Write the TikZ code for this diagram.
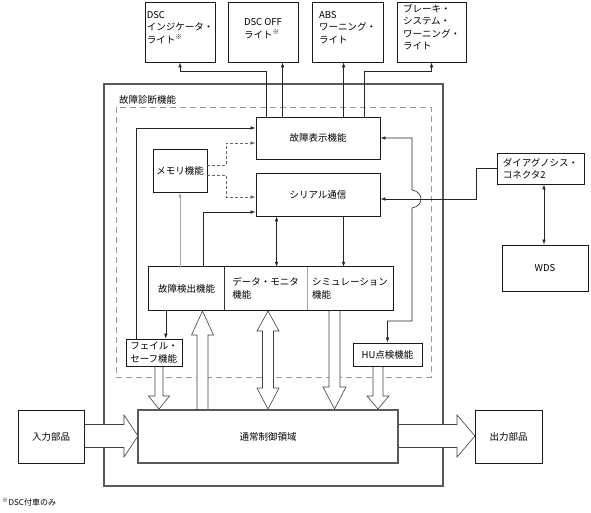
\documentclass[tikz,border=0pt]{standalone}
\usepackage{fontspec}
\setmainfont{Noto Sans CJK JP}
\usetikzlibrary{arrows.meta}
\newcommand{\vhollow}[6]{\draw[hollow] ({#1-#5},#2) -- ({#1-#5},#3) -- ({#1-#6},#3) -- (#1,#4) -- ({#1+#6},#3) -- ({#1+#5},#3) -- ({#1+#5},#2);}
\newcommand{\hhollow}[6]{\draw[hollow] (#2,{#1-#5}) -- (#3,{#1-#5}) -- (#3,{#1-#6}) -- (#4,#1) -- (#3,{#1+#6}) -- (#3,{#1+#5}) -- (#2,{#1+#5});}
\tikzset{
  bx/.style 2 args={draw=black!90, line width=0.9pt, minimum width=#1, minimum height=#2, inner sep=1pt, align=left},
  thick box/.style={draw=black!65, line width=1.3pt},
  lbl/.style={align=left, inner sep=0pt},
  arr/.style={draw=black!85, line width=0.6pt, -{Latex[length=5pt,width=3.6pt]}},
  arrb/.style={draw=black!85, line width=0.6pt, {Latex[length=5pt,width=3.6pt]}-{Latex[length=5pt,width=3.6pt]}},
  dsh/.style={dash pattern=on 3pt off 2pt, draw=black!60},
  hollow/.style={draw=black!75, line width=0.6pt, fill=white, line join=miter},
}
\begin{document}
\begin{tikzpicture}[x=1pt,y=-1pt,font=\fontsize{9.5}{12.5}\selectfont]
\useasboundingbox (0,0) rectangle (591,513);

% outer and dashed frames
\node[thick box, minimum width=339pt, minimum height=402pt, inner sep=0pt] (outer) at (273.5,285) {};
\node[anchor=west, inner sep=0pt] (title) at (119,100) {故障診断機能};
\draw[black!40, line width=0.8pt, dash pattern=on 6pt off 4pt] (116,107) rectangle (431,377);

% hollow arrows
\vhollow{159}{366}{396}{409}{4}{10.5}
\vhollow{202.5}{410}{335}{311}{5.5}{11}
\draw[hollow] (268,311) -- (279,331) -- (273.5,331) -- (273.5,388) -- (279,388) -- (268,409)
  -- (257,388) -- (262.5,388) -- (262.5,331) -- (257,331) -- cycle;
\vhollow{334.5}{310}{387}{409}{5.5}{11.5}
\vhollow{378}{366}{396}{409}{5}{11}
\hhollow{436}{84}{124}{138}{11.5}{21}
\hhollow{436}{398}{457}{475}{11.5}{21}

% top lamps
\node[bx={70pt}{60pt}, label={[lbl,yshift=4.5pt]center:{DSC\\インジケータ・\\ライト\textsuperscript{※}}}] (b1) at (180,32) {};
\node[bx={70pt}{60pt}, label={[lbl,yshift=3.5pt]center:{DSC OFF\\ライト\textsuperscript{※}}}] (b2) at (263,32) {};
\node[bx={71pt}{60pt}, label={[lbl,yshift=4.5pt]center:{ABS\\ワーニング・\\ライト}}] (b3) at (347.5,32) {};
\node[bx={69pt}{60pt}, label={[lbl,yshift=5pt]center:{ブレーキ・\\システム・\\ワーニング・\\ライト}}] (b4) at (431.5,32) {};

% inner function boxes
\node[bx={124pt}{42pt}] (hyoji) at (318,138) {故障表示機能};
\node[bx={124pt}{43pt}] (serial) at (318,194.5) {シリアル通信};
\node[bx={54pt}{43pt}] (memory) at (180,170.5) {メモリ機能};
\node[minimum width=75pt, minimum height=43pt, inner sep=1pt, align=left] (det) at (186.5,288.5) {故障検出機能};
\node[minimum width=83pt, minimum height=43pt, inner sep=1pt, align=left] (mon) at (265.5,288.5) {データ・モニタ\\機能};
\node[minimum width=86pt, minimum height=43pt, inner sep=1pt, align=left] (sim) at (350,288.5) {シミュレーション\\機能};
\draw[draw=black!90, line width=0.9pt] (det.north west) rectangle (sim.south east);
\draw[black!80, line width=0.6pt] (det.north east) -- (det.south east);
\draw[black!35, line width=0.8pt] (mon.north east) -- (mon.south east);
\node[bx={56pt}{27pt}] (failsafe) at (154,352.5) {フェイル・\\セーフ機能};
\node[bx={69pt}{23pt}] (hu) at (387.5,354.5) {HU点検機能};

% right side
\node[bx={87pt}{31pt}] (diag) at (540.5,168.5) {ダイアグノシス・\\コネクタ2};
\node[bx={86pt}{46pt}] (wds) at (545,268) {WDS};

% bottom
\node[bx={260pt}{53pt}, thick box] (main) at (268,436.5) {通常制御領域};
\node[bx={66pt}{53pt}] (input) at (51,436.5) {入力部品};
\node[bx={67pt}{53pt}] (output) at (508.5,436.5) {出力部品};
\node[anchor=west, inner sep=0pt, font=\fontsize{8}{10}\selectfont] (note) at (2,502) {\textsuperscript{※}DSC付車のみ};

% connectors to lamps
\draw[arr] ([xshift=11pt]hyoji.north west) -- ++(0,-45) -| (b1.south);
\draw[arr] ([xshift=27pt]hyoji.north west) -- ([xshift=27pt]hyoji.north west |- b2.south);
\draw[arr] ([xshift=88pt]hyoji.north west) -- ([xshift=88pt]hyoji.north west |- b3.south);
\draw[arr] ([xshift=109pt]hyoji.north west) -- ++(0,-45) -| (b4.south);

% left connectors
\draw[arr] ([xshift=11pt]failsafe.north west) |- ([yshift=10pt]hyoji.west);
\draw[arr, dsh] ([yshift=5.5pt]memory.east) -- ++(19,0) |- ([yshift=-5pt]hyoji.west);
\draw[arr, dsh] ([yshift=-4.5pt]memory.east) -- ++(19,0) |- ([yshift=-2.5pt]serial.west);
\draw[arr, draw=black!35, line width=0.9pt] (memory.south |- det.north) -- (memory.south);
\draw[arr] ([xshift=54pt]det.north west) |- ([yshift=-17.5pt]serial.west);
\draw[arrb] ([xshift=21pt]serial.south west) -- ([xshift=21pt]serial.south west |- mon.north);
\draw[arr] ([xshift=88pt]serial.south west) -- ([xshift=88pt]serial.south west |- sim.north);
\draw[arr] ([xshift=17pt]det.south west) -- ([xshift=17pt]det.south west |- failsafe.north);

% right connectors
\coordinate (bt) at (412,190);
\coordinate (bb) at (412,208);
\coordinate (rc) at (412,321);
\draw[arrb] (hyoji.east) -| (bt) .. controls +(12,2) and +(12,-2) .. (bb) -- (rc) -| (hu.north);
\draw[arr] (diag.west) -- ++(-20,0) |- ([yshift=-4.5pt]serial.east);
\draw[arrb] ([xshift=3.5pt]diag.south) -- ([xshift=3.5pt]diag.south |- wds.north);
\end{tikzpicture}
\end{document}
